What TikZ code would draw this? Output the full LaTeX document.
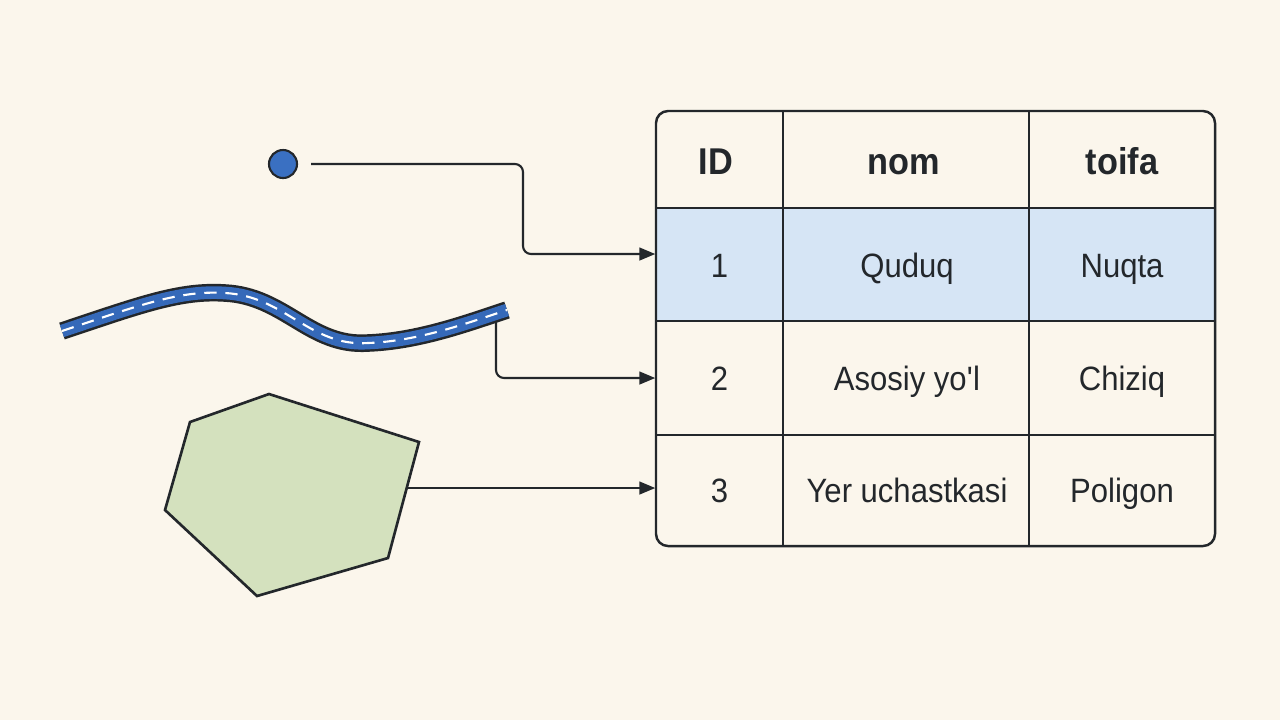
\documentclass[tikz,border=0pt]{standalone}
\usepackage{fontspec}
\setmainfont[FakeStretch=0.92]{Liberation Sans}
\usetikzlibrary{arrows.meta,calc}
\definecolor{paper}{HTML}{FBF6EC}
\definecolor{inkgrey}{HTML}{23272B}
\definecolor{rowblue}{HTML}{D6E5F5}
\definecolor{pointblue}{HTML}{3A70C2}
\definecolor{roadblue}{HTML}{3569B9}
\definecolor{parcelgreen}{HTML}{D4E1BE}
\tikzset{
  cell/.style={font=\fontsize{9.6}{11}\selectfont, text=inkgrey, inner sep=0pt,
               text height=6.9pt, text depth=0pt},
  head/.style={cell, font=\fontsize{10.6}{12}\selectfont\bfseries,
               text height=7.6pt},
  tablerule/.style={draw=inkgrey, line width=0.7pt},
  flow/.style={-{Triangle[length=4.5pt,width=3.6pt]}, draw=inkgrey,
               line width=0.6pt, rounded corners=0.08cm},
  % three passes on one path: dark rim, blue tarmac, white centre dashes
  road/.style={draw=inkgrey, line width=5pt,
               postaction={draw=roadblue, line width=3.6pt},
               postaction={draw=white, line width=0.6pt, dash pattern=on 3.5pt off 2.5pt}},
  parcel/.style={draw=inkgrey, fill=parcelgreen, line width=0.75pt, line join=miter},
  well/.style={circle, draw=inkgrey, fill=pointblue, line width=0.6pt,
               minimum size=0.28cm, inner sep=0pt},
}

\begin{document}
\begin{tikzpicture}[x=0.01cm, y=-0.01cm]
\fill[paper] (0,0) rectangle (1280,720);

% ------------------------------------------------------------- attribute table
\fill[rowblue] (656,208) rectangle (1215,321);
\foreach \x in {783,1029}
  \draw[tablerule] (\x,111) -- (\x,546);
\foreach \y in {208,321,435}
  \draw[tablerule] (656,\y) -- (1215,\y);
\draw[tablerule, rounded corners=0.12cm] (656,111) rectangle (1215,546);

\node[head] (h0) at (716,161) {ID};
\node[head] (h1) at (904,161) {nom};
\node[head] (h2) at (1122,161) {toifa};

\foreach \i/\y/\nom/\toifa in {
    1/265/Quduq/Nuqta,
    2/378/{Asosiy yo\textquotesingle l}/Chiziq,
    3/490/{Yer uchastkasi}/Poligon} {
  \node[cell, minimum width=1.27cm] (id\i) at (719.5,\y) {\i};
  \node[cell] (nom\i) at (907,\y) {\nom};
  \node[cell] (toifa\i) at (1122,\y) {\toifa};
}

% ------------------------------------------------------------- links
\node[well] (pt) at (283,164) {};
\coordinate (bend1) at (523,254);
\draw[flow, shorten <=0.13cm] (pt.east) -| (bend1) -- (bend1 -| id1.west);

\coordinate (roadend) at (496,318);
\draw[flow] (roadend) |- (id2.west);

\coordinate (parcelside) at (407,488);
\draw[flow] (parcelside) -- (parcelside -| id3.west);

% ------------------------------------------------------------- geometries
\draw[road] (62,331) .. controls (140,305) and (180,290) .. (225,293)
  .. controls (285,296) and (310,347) .. (368,343)
  .. controls (420,341) and (470,322) .. (507,310);

\draw[parcel] (190,422) -- (269,394) -- (419,442) -- (388,558)
  -- (257,596) -- (165,510) -- cycle;

\end{tikzpicture}
\end{document}
